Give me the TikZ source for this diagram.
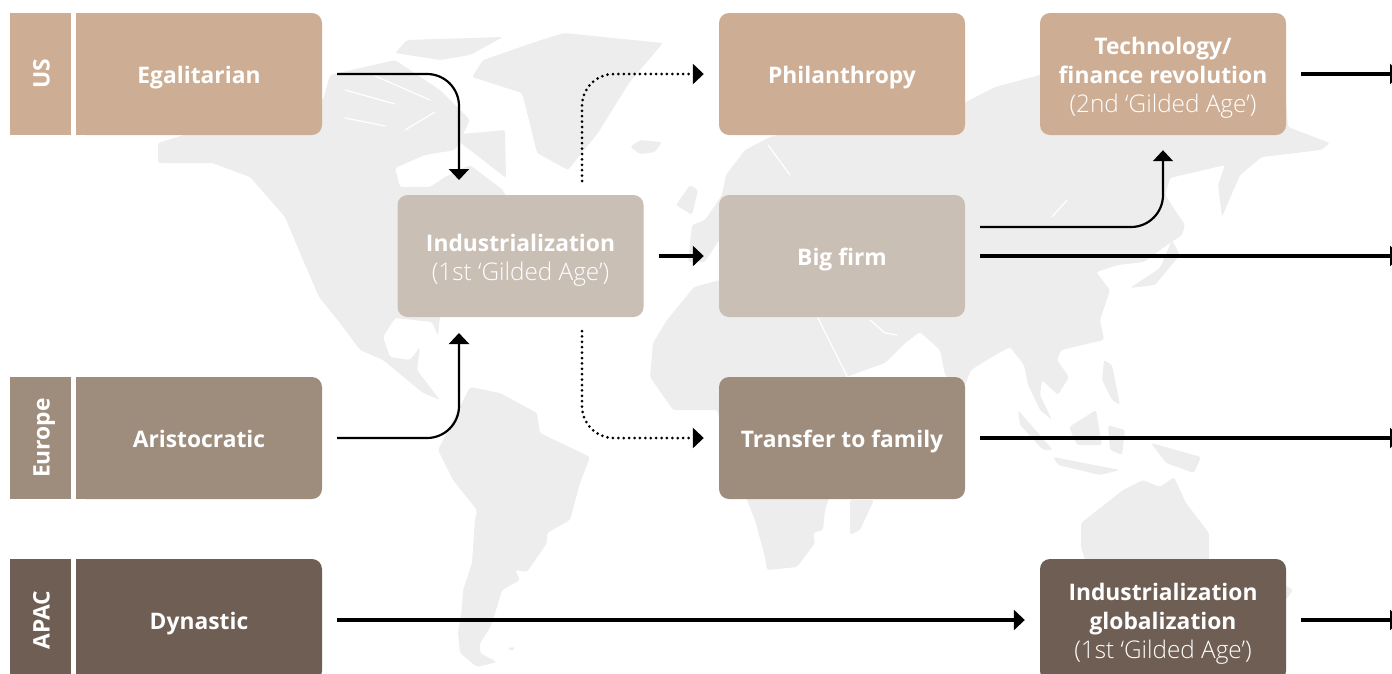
\documentclass[tikz,border=0pt]{standalone}
\usepackage{fontspec}
\setmainfont{Open Sans}
\newfontfamily\lightfont{Open Sans Light}
\usetikzlibrary{arrows.meta, positioning}
\definecolor{usTan}{HTML}{CDAE94}
\definecolor{midTaupe}{HTML}{CABFB5}
\definecolor{euTaupe}{HTML}{9E8C7D}
\definecolor{apacBrown}{HTML}{6E5E53}
\definecolor{mapGrey}{HTML}{EDEDED}
\tikzset{
	lane/.style={minimum width=246pt, minimum height=122pt, inner sep=0pt, align=center, text=white, rounded corners=10pt, font=\fontsize{22.8}{29}\selectfont, execute at begin node={\rule[-6pt]{0pt}{31pt}}},
	tab/.style={minimum width=122pt, minimum height=61pt, inner sep=0pt, rotate=90, text=white, text height=22pt, text depth=4pt, font=\fontsize{22.8}{29}\selectfont\bfseries},
	link/.style={line width=2.2pt, -{Triangle[length=11pt, width=20pt]}, shorten <=15pt, shorten >=15pt, rounded corners=32pt},
	thicklink/.style={link, line width=3.2pt},
	dotlink/.style={link, line width=3pt, line cap=round, dash pattern=on 0pt off 5.4pt},
	land/.style={fill=mapGrey, rounded corners=2.5pt},
	sea/.style={white, line width=1.2pt, line cap=round}
}
\newcommand{\thin}[1]{{\lightfont\fontsize{24.3}{29}\selectfont #1}}
\newcommand{\lift}{\rule{0pt}{25pt}}
\begin{document}
\begin{tikzpicture}[x=1pt, y=-1pt]
	\useasboundingbox (0,0) rectangle (1392,673);
	% world map
	\path[land] (158,143) -- (200,130) -- (323,100) -- (330,75) -- (395,60) -- (440,90) -- (470,120) -- (455,150) -- (425,155) -- (395,168) -- (400,187) -- (430,187) -- (445,177) -- (470,165) -- (503,190) -- (510,205) -- (500,240) -- (470,280) -- (440,317) -- (438,336) -- (432,322) -- (395,318) -- (383,337) -- (390,357) -- (410,360) -- (420,347) -- (417,370) -- (440,400) -- (423,393) -- (383,360) -- (360,350) -- (340,323) -- (319,297) -- (300,253) -- (285,217) -- (250,177) -- (212,163) -- (158,163) -- cycle;
	\path[land] (395,53) -- (407,40) -- (503,37) -- (470,55) -- (440,60) -- cycle;
	\path[land] (450,135) -- (505,130) -- (506,178) -- (470,150) -- cycle;
	\path[land] (472,77) -- (483,60) -- (541,40) -- (564,33) -- (663,43) -- (629,83) -- (598,133) -- (568,170) -- (537,153) -- (529,120) -- (522,93) -- cycle;
	\path[land] (630,147) -- (640,140) -- (662,142) -- (655,152) -- (640,154) -- cycle;
	\path[land] (470,387) -- (500,393) -- (537,413) -- (540,433) -- (590,457) -- (580,483) -- (570,520) -- (547,533) -- (547,543) -- (527,572) -- (515,570) -- (520,580) -- (502,590) -- (497,607) -- (490,628) -- (480,643) -- (480,653) -- (497,662) -- (477,667) -- (460,653) -- (458,633) -- (462,608) -- (463,590) -- (472,563) -- (475,520) -- (477,510) -- (453,480) -- (438,450) -- (453,420) -- cycle;
	\path[land] (507,648) -- (515,647) -- (513,651) -- cycle;
	\path[land] (720,280) -- (694,287) -- (667,320) -- (653,343) -- (650,377) -- (673,410) -- (717,410) -- (747,500) -- (755,520) -- (765,557) -- (767,570) -- (797,567) -- (815,543) -- (813,533) -- (823,530) -- (825,510) -- (830,495) -- (880,400) -- (846,377) -- (820,320) -- (800,300) -- cycle;
	\path[land] (726,175) -- (745,150) -- (770,137) -- (830,120) -- (960,105) -- (995,87) -- (1040,75) -- (1100,20) -- (1280,20) -- (1288,127) -- (1330,143) -- (1321,150) -- (1262,157) -- (1240,175) -- (1222,217) -- (1218,185) -- (1225,165) -- (1170,178) -- (1165,195) -- (1185,225) -- (1182,235) -- (1160,250) -- (1144,262) -- (1118,265) -- (1096,272) -- (1110,290) -- (1100,320) -- (1104,340) -- (1061,350) -- (1057,360) -- (1069,377) -- (1058,395) -- (1042,380) -- (1040,395) -- (1052,420) -- (1040,410) -- (1028,385) -- (1024,365) -- (1010,347) -- (990,358) -- (971,370) -- (963,390) -- (945,375) -- (940,350) -- (920,332) -- (905,343) -- (885,363) -- (846,377) -- (820,320) -- (800,290) -- (719,240) -- (705,262) -- (688,262) -- (692,225) -- (705,220) -- (722,195) -- cycle;
	\path[land] (676,205) -- (690,185) -- (698,190) -- (692,215) -- cycle;
	\path[land] (1130,288) -- (1160,268) -- (1172,240) -- (1180,255) -- (1155,285) -- cycle;
	\path[land] (850,500) -- (874,500) -- (860,530) -- (850,535) -- cycle;
	\path[land] (1018,410) -- (1053,450) -- (1043,450) -- (1020,425) -- cycle;
	\path[land] (1053,457) -- (1120,470) -- (1100,475) -- (1058,465) -- cycle;
	\path[land] (1069,427) -- (1096,410) -- (1102,445) -- (1077,445) -- cycle;
	\path[land] (1108,425) -- (1125,430) -- (1122,455) -- (1110,450) -- cycle;
	\path[land] (1104,360) -- (1112,365) -- (1120,405) -- (1112,400) -- (1102,380) -- cycle;
	\path[land] (1151,443) -- (1201,457) -- (1194,473) -- (1166,463) -- cycle;
	\path[land] (1143,480) -- (1160,487) -- (1174,477) -- (1186,503) -- (1209,533) -- (1209,570) -- (1088,570) -- (1081,547) -- (1081,523) -- (1123,490) -- cycle;
	\path[land] (1286,585) -- (1293,590) -- (1286,600) -- cycle;
	\draw[sea] (818,318) -- (848,378);
	\draw[sea] (870,320) -- (885,333) -- (897,335);
	\draw[sea] (768,145) -- (790,175);
	\draw[sea] (1067,200) -- (1052,217);
	\draw[sea] (345,90) -- (395,104);
	\draw[sea] (375,76) -- (430,100);
	\draw[sea] (345,118) -- (385,126);
	\draw[sea] (405,130) -- (435,112);
	% square corners of the first column
	\fill[usTan] (76,13) rectangle (140,135);
	\fill[euTaupe] (76,377) rectangle (140,499);
	\fill[apacBrown] (76,559) rectangle (140,681);
	\node[tab, fill=usTan] at (40.5,74) (US) {US};
	\node[tab, fill=euTaupe] at (40.5,438) (Europe) {Europe};
	\node[tab, fill=apacBrown] at (40.5,620) (APAC) {APAC};
	\node[lane, fill=usTan] at (199,74) (Egalitarian) {\textbf{Egalitarian}};
	\node[lane, fill=euTaupe] at (199,438) (Aristocratic) {\textbf{Aristocratic}};
	\node[lane, fill=apacBrown] at (199,620) (Dynastic) {\textbf{Dynastic}};
	\node[lane, fill=midTaupe] at (520.5,256) (Industrial) {\lift\textbf{Industrialization}\\\thin{(1st ‘Gilded Age’)}};
	\node[lane, fill=usTan] at (842,74) (Philanthropy) {\textbf{Philanthropy}};
	\node[lane, fill=midTaupe] at (842,256) (Big Firm) {\textbf{Big firm}};
	\node[lane, fill=euTaupe] at (842,438) (Transfer) {\textbf{Transfer to family}};
	\node[lane, fill=usTan] at (1163,74) (Technology) {\lift\textbf{Technology/}\\\textbf{finance revolution}\\\thin{(2nd ‘Gilded Age’)}};
	\node[lane, fill=apacBrown] at (1163,620) (Globalization) {\lift\textbf{Industrialization}\\\textbf{globalization}\\\thin{(1st ‘Gilded Age’)}};
	% free ends, on the box edges and past the page
	\coordinate (Industrial In Top) at (459,195);
	\coordinate (Industrial In Bottom) at (459,318);
	\coordinate (Industrial Out Top) at (582,196);
	\coordinate (Industrial Out Bottom) at (582,316);
	\coordinate (Big Firm Out) at (965,227);
	\coordinate (Exit Technology) at (1416,74);
	\coordinate (Exit Big Firm) at (1416,256);
	\coordinate (Exit Transfer) at (1416,438);
	\coordinate (Exit Globalization) at (1416,620);
	\draw[link] (Egalitarian.east) -| (Industrial In Top);
	\draw[link] (Aristocratic.east) -| (Industrial In Bottom);
	\draw[dotlink] (Industrial Out Top) |- (Philanthropy.west);
	\draw[dotlink] (Industrial Out Bottom) |- (Transfer.west);
	\draw[thicklink] (Industrial.east) -- (Big Firm.west);
	\draw[link] (Big Firm Out) -| (Technology.south);
	\draw[thicklink] (Big Firm.east) -- (Exit Big Firm);
	\draw[thicklink] (Transfer.east) -- (Exit Transfer);
	\draw[thicklink] (Technology.east) -- (Exit Technology);
	\draw[thicklink] (Dynastic.east) -- (Globalization.west);
	\draw[thicklink] (Globalization.east) -- (Exit Globalization);
\end{tikzpicture}
\end{document}
